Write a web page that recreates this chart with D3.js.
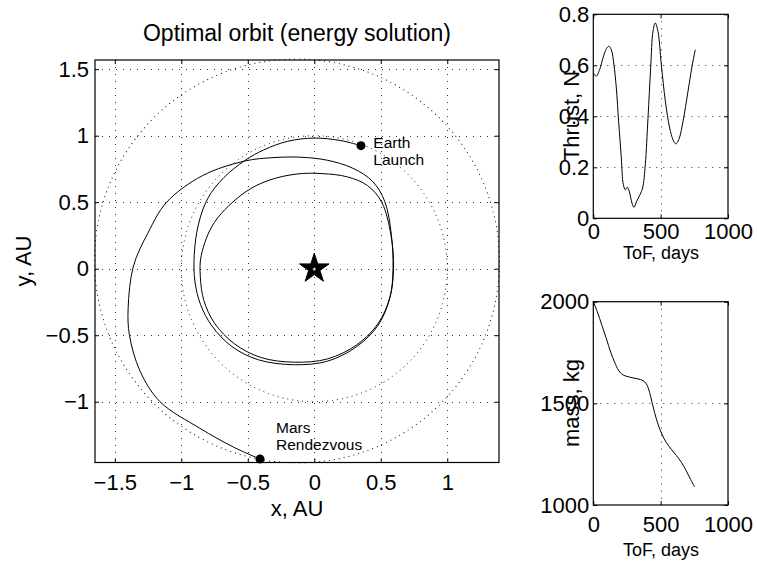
<!DOCTYPE html>
<html lang="en">
<head>
<meta charset="UTF-8" />
<title>Optimal orbit (energy solution)</title>
<script src="https://d3js.org/d3.v7.min.js"></script>
<style>
  body { margin: 0; background: #fff; }
  text { font-family: "Liberation Sans", Arial, Helvetica, sans-serif; fill: #000; }
  .grid { stroke: #333; stroke-width: 1; stroke-dasharray: 1, 6; fill: none; }
  .orbit { stroke: #111; stroke-width: 1; stroke-dasharray: 1, 4; fill: none; }
</style>
</head>
<body>
<svg width="757" height="563"></svg>
<script>
// transfer trajectory, AU
var trajX = [0.351, 0.20, 0.00, -0.20, -0.38, -0.52, -0.68, -0.80, -0.872, -0.903, -0.897, -0.855, -0.77, -0.62, -0.42, -0.15,
  0.10, 0.32, 0.48, 0.568, 0.596, 0.577, 0.507, 0.40, 0.25, 0.06, -0.13,
  -0.34, -0.52, -0.75, -0.85, -0.857, -0.83, -0.75, -0.60, -0.40, -0.15,
  0.10, 0.32, 0.48, 0.57, 0.592, 0.580, 0.532, 0.44, 0.29, 0.10, -0.10, -0.31, -0.52,
  -0.84, -1.11, -1.25, -1.36, -1.40, -1.39, -1.31, -1.16, -0.86, -0.61, -0.408]
var trajY = [0.925, 0.963, 0.982, 0.958, 0.893, 0.815, 0.685, 0.53, 0.33, 0.10, -0.10, -0.27, -0.43, -0.585, -0.685, -0.722,
  -0.695, -0.585, -0.425, -0.22, 0.00, 0.25, 0.50, 0.625, 0.690, 0.715, 0.712,
  0.665, 0.575, 0.35, 0.10, -0.06, -0.24, -0.41, -0.565, -0.668, -0.703,
  -0.678, -0.572, -0.412, -0.21, 0.00, 0.25, 0.50, 0.655, 0.755, 0.815, 0.838, 0.835, 0.81,
  0.70, 0.50, 0.27, 0.02, -0.30, -0.50, -0.77, -1.00, -1.20, -1.34, -1.431]

var earthLaunch = [0.351, 0.925]
var marsRendezvous = [-0.408, -1.431]

// planet orbits: semi-major axis (AU), eccentricity, longitude of perihelion (deg)
var earthOrbit = [1.0, 0.0, 0]
var marsOrbit = [1.5237, 0.0934, -24]

var orbXLim = [-1.649, 1.389]
var orbYLim = [-1.457, 1.569]
var orbTicks = [-1.5, -1, -0.5, 0, 0.5, 1, 1.5]

// thrust history
var tofThrust = [0, 22, 47, 72, 97, 116, 134, 153, 171, 188, 208, 223, 238, 252, 267, 287, 302, 322, 347, 366, 386,
  406, 426, 443, 460, 480, 505, 535, 567, 592, 611, 634, 666, 703, 733, 757]
var thrust = [0.570, 0.557, 0.583, 0.629, 0.665, 0.675, 0.661, 0.603, 0.511, 0.380, 0.237, 0.132, 0.112, 0.122, 0.106,
  0.060, 0.043, 0.067, 0.093, 0.119, 0.210, 0.393, 0.590, 0.733, 0.766, 0.733, 0.603, 0.459, 0.354, 0.308, 0.292,
  0.308, 0.380, 0.498, 0.596, 0.661]

// mass history
var tofMass = [0, 30, 64, 97, 129, 158, 188, 220, 270, 332, 369, 394, 418, 436, 455, 480, 510, 542, 579, 616, 653,
  691, 723, 752]
var mass = [2000, 1950, 1884, 1818, 1752, 1703, 1662, 1640, 1629, 1620, 1612, 1596, 1554, 1505, 1455, 1398, 1348,
  1307, 1274, 1244, 1211, 1167, 1125, 1089]

var tofTicks = [0, 500, 1000]
var thrustTicks = [0, 0.2, 0.4, 0.6, 0.8]
var massTicks = [1000, 1500, 2000]

var svg = d3.select('svg')
var fs = 22

// MATLAB-like axes: dotted grid, inward ticks on all sides, box
function axesBox(x, y, xt, yt, xpad, ypad) {
  var g = svg.append('g')
  var xr = x.range(), yr = y.range()
  var xd = x.domain(), yd = y.domain()
  var inX = xt.filter(function (v) { return v >= xd[0] - 1e-9 && v <= xd[1] + 1e-9 })
  var inY = yt.filter(function (v) { return v >= yd[0] - 1e-9 && v <= yd[1] + 1e-9 })

  g.selectAll('.gx').data(inX.filter(function (v) { return x(v) > xr[0] + 1 && x(v) < xr[1] - 1 }))
    .enter().append('line').attr('class', 'grid')
    .attr('x1', function (d) { return Math.round(x(d)) + 0.5 })
    .attr('x2', function (d) { return Math.round(x(d)) + 0.5 })
    .attr('y1', yr[1]).attr('y2', yr[0])
  g.selectAll('.gy').data(inY.filter(function (v) { return y(v) < yr[0] - 1 && y(v) > yr[1] + 1 }))
    .enter().append('line').attr('class', 'grid')
    .attr('y1', function (d) { return Math.round(y(d)) + 0.5 })
    .attr('y2', function (d) { return Math.round(y(d)) + 0.5 })
    .attr('x1', xr[0]).attr('x2', xr[1])

  var fmt = d3.format('')
  g.append('g').attr('transform', 'translate(0,' + yr[0] + ')')
    .call(d3.axisBottom(x).tickValues(inX).tickSizeInner(-4).tickSizeOuter(0).tickPadding(xpad).tickFormat(fmt))
  g.append('g').attr('transform', 'translate(' + xr[0] + ',0)')
    .call(d3.axisLeft(y).tickValues(inY).tickSizeInner(-4).tickSizeOuter(0).tickPadding(ypad).tickFormat(fmt))
  g.append('g').attr('transform', 'translate(0,' + yr[1] + ')')
    .call(d3.axisTop(x).tickValues(inX).tickSizeInner(-4).tickSizeOuter(0).tickFormat(''))
  g.append('g').attr('transform', 'translate(' + xr[1] + ',0)')
    .call(d3.axisRight(y).tickValues(inY).tickSizeInner(-4).tickSizeOuter(0).tickFormat(''))
  g.selectAll('.domain').remove()
  g.selectAll('.tick text').style('font-size', fs + 'px').style('font-family', null)

  g.append('rect')
    .attr('x', xr[0]).attr('y', yr[1])
    .attr('width', xr[1] - xr[0]).attr('height', yr[0] - yr[1])
    .attr('fill', 'none').attr('stroke', '#000').attr('stroke-width', 1.2)
  return g
}

// ---- main orbit plot
var xOrb = d3.scaleLinear().domain(orbXLim).range([95, 499])
var yOrb = d3.scaleLinear().domain(orbYLim).range([462.5, 60])
var gOrb = axesBox(xOrb, yOrb, orbTicks, orbTicks, 12, 6)

var k = xOrb(1) - xOrb(0)
function orbitEllipse(o) {
  var a = o[0], e = o[1], w = o[2] * Math.PI / 180
  var cx = -a * e * Math.cos(w), cy = -a * e * Math.sin(w)
  gOrb.append('ellipse').attr('class', 'orbit')
    .attr('rx', a * k).attr('ry', a * Math.sqrt(1 - e * e) * k)
    .attr('transform', 'translate(' + xOrb(cx) + ',' + yOrb(cy) + ') rotate(' + (-o[2]) + ')')
}
orbitEllipse(earthOrbit)
orbitEllipse(marsOrbit)

var line = d3.line()
  .x(function (i) { return xOrb(trajX[i]) })
  .y(function (i) { return yOrb(trajY[i]) })
  .curve(d3.curveCatmullRom.alpha(0.5))
gOrb.append('path').datum(d3.range(trajX.length))
  .attr('d', line).attr('fill', 'none').attr('stroke', '#000').attr('stroke-width', 1)

gOrb.selectAll('.pt').data([earthLaunch, marsRendezvous]).enter().append('circle')
  .attr('cx', function (d) { return xOrb(d[0]) })
  .attr('cy', function (d) { return yOrb(d[1]) })
  .attr('r', 4.5).attr('fill', '#000')

// the Sun
gOrb.append('path').attr('d', d3.symbol(d3.symbolStar, 270)())
  .attr('transform', 'translate(' + xOrb(0) + ',' + yOrb(0) + ')').attr('fill', '#000')
  .attr('stroke', '#000').attr('stroke-width', 1)
gOrb.append('path').attr('d', d3.symbol(d3.symbolStar, 5)())
  .attr('transform', 'translate(' + xOrb(0) + ',' + (yOrb(0) + 0.5) + ')').attr('fill', '#fff')

function label(txt, x, y, size, anchor, rot) {
  var t = svg.append('text').text(txt)
    .attr('font-size', size + 'px')
    .attr('text-anchor', anchor || 'start')
  if (rot) t.attr('transform', 'translate(' + x + ',' + y + ') rotate(' + rot + ')')
  else t.attr('x', x).attr('y', y)
  return t
}

label('Earth', 373.3, 147.5, 15.5)
label('Launch', 373.3, 165, 15.5)
label('Mars', 276, 433, 15.5)
label('Rendezvous', 276, 450, 15.5)

label('Optimal orbit (energy solution)', 297, 40.5, 23, 'middle')
label('x, AU', 297, 516, fs, 'middle')
label('y, AU', 31, 261, fs, 'middle', -90)

// ---- thrust plot
var xT = d3.scaleLinear().domain([0, 1000]).range([593.3, 728])
var yT = d3.scaleLinear().domain([0, 0.8]).range([218.3, 14.3])
var gT = axesBox(xT, yT, tofTicks, thrustTicks, 5, 4)
gT.append('path').datum(d3.range(tofThrust.length))
  .attr('d', d3.line()
    .x(function (i) { return xT(tofThrust[i]) })
    .y(function (i) { return yT(thrust[i]) })
    .curve(d3.curveCatmullRom.alpha(0.5)))
  .attr('fill', 'none').attr('stroke', '#000').attr('stroke-width', 1)
label('ToF, days', 661, 259, 18, 'middle')
label('Thrust, N', 579, 116, fs, 'middle', -90)

// ---- mass plot
var xM = d3.scaleLinear().domain([0, 1000]).range([593.3, 728])
var yM = d3.scaleLinear().domain([1000, 2000]).range([505, 301.7])
var gM = axesBox(xM, yM, tofTicks, massTicks, 11, 4)
gM.append('path').datum(d3.range(tofMass.length))
  .attr('d', d3.line()
    .x(function (i) { return xM(tofMass[i]) })
    .y(function (i) { return yM(mass[i]) })
    .curve(d3.curveCatmullRom.alpha(0.5)))
  .attr('fill', 'none').attr('stroke', '#000').attr('stroke-width', 1)
label('ToF, days', 661, 556, 18, 'middle')
label('mass, kg', 579, 403, fs, 'middle', -90)
</script>
</body>
</html>
